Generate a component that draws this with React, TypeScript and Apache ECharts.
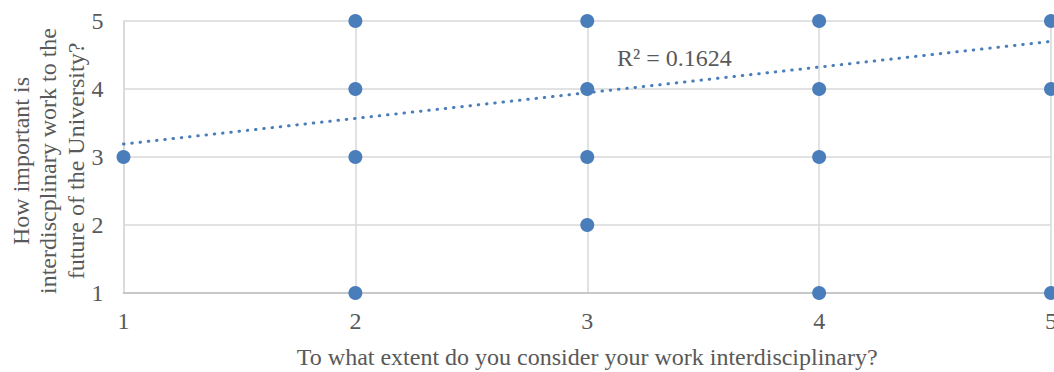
import React, { useEffect, useRef } from "react";
import * as echarts from "echarts";

// Survey responses: extent of interdisciplinary work (x) vs importance to the University (y)
const responseX = [1, 2, 2, 2, 2, 3, 3, 3, 3, 4, 4, 4, 4, 5, 5, 5];
const responseY = [3, 5, 4, 3, 1, 5, 4, 3, 2, 5, 4, 3, 1, 5, 4, 1];

// Linear trendline endpoints and its fit
const trendX = [1, 5];
const trendY = [3.19, 4.7];
const rSquared = "0.1624";

const xTicks = [1, 2, 3, 4, 5];
const yTicks = [1, 2, 3, 4, 5];

const xTitle = "To what extent do you consider your work interdisciplinary?";
const yTitleLines = ["How important is", "interdiscplinary work to the", "future of the University?"];

const FONT = "'Liberation Serif', 'Times New Roman', serif";
const TEXT = "#595959";
const BLUE = "#4A7EBB";
const GRID = "#D9D9D9";

export default function App() {
  const ref = useRef<HTMLDivElement>(null);

  useEffect(() => {
    if (!ref.current) return;
    const chart = echarts.init(ref.current, null, { renderer: "svg" });
    const points = responseX.map((x, i) => [x, responseY[i]]);
    const trend = trendX.map((x, i) => [x, trendY[i]]);

    chart.setOption({
      animation: false,
      textStyle: { fontFamily: FONT },
      grid: {
        left: 123.5,
        right: 3,
        top: 21,
        bottom: 79,
        containLabel: false,
        outerBoundsMode: "none",
      },
      xAxis: {
        type: "value",
        min: xTicks[0],
        max: xTicks[xTicks.length - 1],
        interval: 1,
        name: xTitle,
        nameLocation: "middle",
        nameGap: 52,
        nameTextStyle: { fontFamily: FONT, fontSize: 24, color: TEXT },
        axisLine: { show: true, lineStyle: { color: "#BFBFBF", width: 1.5 } },
        axisTick: { show: false },
        axisLabel: { fontFamily: FONT, fontSize: 24, color: TEXT, margin: 16 },
        splitLine: { show: true, lineStyle: { color: GRID, width: 1.5 } },
      },
      yAxis: {
        type: "value",
        min: yTicks[0],
        max: yTicks[yTicks.length - 1],
        interval: 1,
        axisLine: { show: true, lineStyle: { color: GRID, width: 1.5 } },
        axisTick: { show: false },
        axisLabel: { fontFamily: FONT, fontSize: 24, color: TEXT, margin: 20 },
        splitLine: { show: true, lineStyle: { color: GRID, width: 1.5 } },
      },
      graphic: [
        {
          type: "text",
          x: 48,
          y: 161,
          rotation: Math.PI / 2,
          style: {
            text: yTitleLines.join("\n"),
            fontFamily: FONT,
            fontSize: 24,
            lineHeight: 27.5,
            fill: TEXT,
            align: "center",
            verticalAlign: "middle",
          },
        },
        {
          type: "text",
          x: 617,
          y: 58,
          style: {
            text: "R² = " + rSquared,
            fontFamily: FONT,
            fontSize: 24,
            fill: TEXT,
            align: "left",
            verticalAlign: "middle",
          },
        },
      ],
      series: [
        {
          type: "line",
          data: trend,
          symbol: "none",
          z: 2,
          lineStyle: { color: BLUE, width: 3, type: [0.5, 7.8], cap: "round" },
        },
        {
          type: "scatter",
          data: points,
          symbol: "circle",
          symbolSize: 14,
          clip: false,
          z: 3,
          itemStyle: { color: BLUE, opacity: 1 },
        },
      ],
    });

    return () => chart.dispose();
  }, []);

  return (
    <div
      ref={ref}
      style={{ position: "absolute", left: 0, top: 0, width: 1054, height: 372, background: "#fff" }}
    />
  );
}
